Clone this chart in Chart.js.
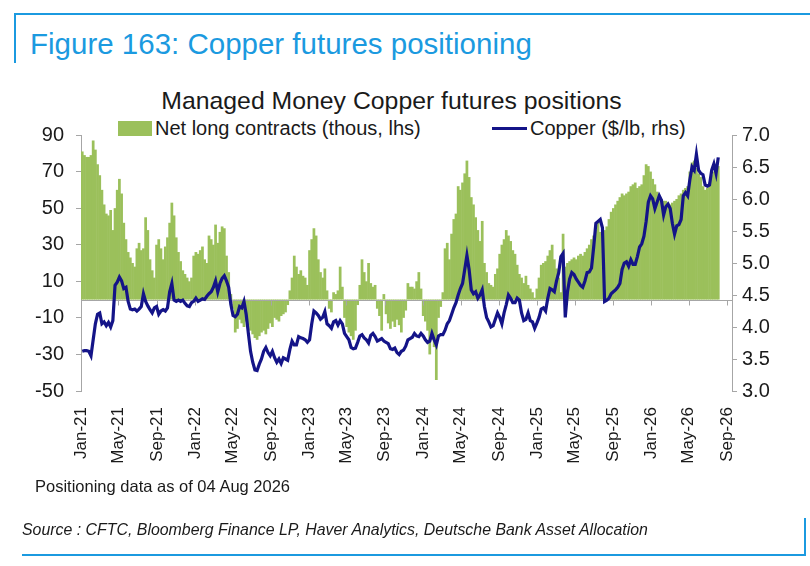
<!DOCTYPE html>
<html>
<head>
<meta charset="utf-8">
<script src="https://cdn.jsdelivr.net/npm/chart.js@4.4.1/dist/chart.umd.min.js"></script>
<style>
  html, body { margin: 0; padding: 0; background: #fff; }
  body { width: 810px; height: 566px; position: relative; overflow: hidden;
         font-family: "Liberation Sans", Arial, sans-serif; color: #1a1a1a; }
  #chart { position: absolute; left: 0; top: 0; }
  .frame { position: absolute; background: #1b9ae0; }
  #figTitle { position: absolute; left: 30px; top: 27px; font-size: 29.5px; color: #1b9ae0; white-space: nowrap; }
  #chartTitle { position: absolute; left: 0; width: 783px; top: 87px; text-align: center; font-size: 24.8px; white-space: nowrap; }
  .legText { position: absolute; top: 118px; font-size: 20px; line-height: 20px; white-space: nowrap; }
  #legBar { position: absolute; left: 118px; top: 121px; width: 34px; height: 15px; background: #9bc05b; }
  #legLine { position: absolute; left: 492px; top: 127px; width: 35px; height: 3px; background: #141488; }
  #note { position: absolute; left: 35px; top: 477px; font-size: 16.5px; white-space: nowrap; }
  #source { position: absolute; left: 22px; top: 521px; font-size: 15.9px; font-style: italic; white-space: nowrap; }
</style>
</head>
<body>
<div class="frame" style="left:14px; top:13px; width:796px; height:2px;"></div>
<div class="frame" style="left:14px; top:13px; width:2px; height:50px;"></div>
<div class="frame" style="left:22px; top:554px; width:784px; height:2px;"></div>
<div class="frame" style="left:804px; top:518px; width:2px; height:38px;"></div>
<div id="figTitle">Figure 163: Copper futures positioning</div>
<div id="chartTitle">Managed Money Copper futures positions</div>
<div id="legBar"></div>
<div class="legText" style="left:155px;">Net long contracts (thous, lhs)</div>
<div id="legLine"></div>
<div class="legText" style="left:530px;">Copper ($/lb, rhs)</div>
<canvas id="chart" width="810" height="566"></canvas>
<div id="note">Positioning data as of 04 Aug 2026</div>
<div id="source">Source : CFTC, Bloomberg Finance LP, Haver Analytics, Deutsche Bank Asset Allocation</div>

<script>
// weekly CFTC report dates, first one 05 Jan 2021, last one 04 Aug 2026
const firstReport = [2021, 0, 5];

const tickLabels = ['Jan-21', 'May-21', 'Sep-21', 'Jan-22', 'May-22', 'Sep-22', 'Jan-23', 'May-23', 'Sep-23',
                    'Jan-24', 'May-24', 'Sep-24', 'Jan-25', 'May-25', 'Sep-25', 'Jan-26', 'May-26', 'Sep-26'];

// managed money net long, thousand contracts (lhs)
const netLong = [
  81, 79, 78, 78, 79, 87, 82, 74, 68, 60,
  52, 47, 46, 49, 38, 50, 60, 66, 58, 42,
  33, 26, 23, 20, 18, 28, 31, 27, 28, 45,
  38, 22, 16, 12, 30, 33, 28, 22, 29, 34,
  42, 53, 46, 34, 26, 21, 16, 14, 12, 10,
  12, 24, 26, 25, 27, 29, 22, 20, 35, 33,
  30, 41, 31, 37, 40, 39, 24, 15, 3, -5,
  -18, -16, -11, -13, -15, -12, -14, -17, -19, -21,
  -22, -20, -18, -17, -19, -16, -13, -15, -10, -11,
  -12, -9, -8, -7, -3, 5, 12, 24, 18, 14,
  16, 13, 12, 8, 27, 33, 39, 35, 22, 15,
  12, 17, 5, -5, -7, 4, 3, 5, 18, 7,
  -10, -15, -18, -20, -22, -17, -3, 8, 22, 15,
  10, 20, 9, 7, 8, -5, -9, -17, 3, -8,
  -13, -16, -12, -15, -11, -14, -18, -10, -6, 9,
  7, 7, 6, 10, 15, 6, -9, -12, -17, -30,
  -22, -26, -44, -10, -4, 4, 28, 31, 22, 36,
  44, 47, 62, 60, 64, 69, 76, 67, 56, 52,
  45, 38, 32, 43, 20, 15, 9, 8, 7, 14,
  17, 25, 30, 33, 38, 35, 32, 27, 25, 19,
  14, 12, 9, 13, 8, 6, 4, 1, 6, 12,
  19, 20, 21, 24, 27, 30, 22, 17, 12, 4,
  36, 18, 20, 21, 22, 23, 22, 24, 25, 24,
  26, 28, 30, 33, 35, 38, 43, 37, 36, 38,
  40, 44, 48, 50, 52, 54, 56, 58, 57, 58,
  59, 62, 63, 64, 61, 62, 63, 68, 74, 73,
  70, 66, 63, 59, 56, 55, 54, 54, 53, 52,
  53, 54, 55, 57, 58, 60, 61, 62, 70, 75,
  76, 72, 69, 67, 62, 60, 61, 64, 68, 70,
  72, 73
];

// copper price, $/lb (rhs)
const copper = [
  3.62, 3.63, 3.63, 3.62, 3.55, 3.80, 4.05, 4.20, 4.22, 4.05,
  4.08, 4.02, 4.07, 4.00, 4.10, 4.65, 4.70, 4.78, 4.72, 4.60,
  4.62, 4.40, 4.28, 4.27, 4.28, 4.25, 4.28, 4.32, 4.52, 4.40,
  4.33, 4.27, 4.22, 4.30, 4.32, 4.20, 4.25, 4.27, 4.25, 4.30,
  4.55, 4.68, 4.42, 4.40, 4.42, 4.40, 4.42, 4.37, 4.33, 4.32,
  4.38, 4.40, 4.45, 4.40, 4.42, 4.44, 4.43, 4.48, 4.52, 4.55,
  4.62, 4.72, 4.55, 4.68, 4.76, 4.80, 4.72, 4.62, 4.35, 4.18,
  4.16, 4.20, 4.32, 4.30, 4.40, 4.20, 3.90, 3.62, 3.45, 3.33,
  3.32, 3.42, 3.50, 3.62, 3.68, 3.60, 3.55, 3.62, 3.52, 3.45,
  3.50, 3.43, 3.52, 3.50, 3.48, 3.65, 3.78, 3.72, 3.72, 3.85,
  3.83, 3.82, 3.80, 3.76, 3.80, 4.05, 4.25, 4.22, 4.18, 4.12,
  4.15, 4.24, 4.05, 4.02, 3.98, 4.08, 4.10, 4.03, 4.10, 4.05,
  3.90, 3.85, 3.80, 3.68, 3.66, 3.67, 3.76, 3.86, 3.88, 3.83,
  3.80, 3.75, 3.87, 3.90, 3.85, 3.78, 3.80, 3.82, 3.78, 3.76,
  3.74, 3.66, 3.65, 3.67, 3.60, 3.57, 3.62, 3.64, 3.70, 3.80,
  3.82, 3.84, 3.90, 3.86, 3.85, 3.90, 3.86, 3.80, 3.76, 3.78,
  3.90, 3.80, 3.72, 3.86, 3.88, 3.88, 3.95, 4.05, 4.10, 4.20,
  4.30, 4.38, 4.50, 4.60, 4.68, 4.90, 5.12, 4.90, 4.58, 4.52,
  4.55, 4.45, 4.50, 4.58, 4.32, 4.15, 4.08, 4.00, 4.02, 4.12,
  4.22, 4.15, 4.05, 4.22, 4.35, 4.50, 4.45, 4.38, 4.38, 4.45,
  4.42, 4.22, 4.10, 4.12, 4.22, 4.10, 4.08, 3.98, 4.06, 4.15,
  4.28, 4.30, 4.25, 4.45, 4.60, 4.58, 4.55, 4.72, 4.85, 5.10,
  5.15, 4.15, 4.55, 4.75, 4.85, 4.82, 4.75, 4.70, 4.65, 4.62,
  4.72, 4.85, 4.86, 4.92, 5.25, 5.62, 5.65, 5.68, 5.55, 4.40,
  4.42, 4.45, 4.52, 4.55, 4.58, 4.62, 4.68, 4.90, 5.00, 5.02,
  4.95, 5.05, 4.98, 4.98, 5.10, 5.25, 5.30, 5.42, 5.65, 5.95,
  6.05, 6.00, 5.85, 5.95, 6.05, 5.98, 5.75, 5.88, 5.92, 5.85,
  5.62, 5.45, 5.58, 5.60, 5.68, 6.05, 6.10, 6.05, 6.30, 6.50,
  6.45, 6.70, 6.45, 6.40, 6.38, 6.22, 6.20, 6.22, 6.45, 6.55,
  6.40, 6.65
];

const DAY = 86400000;
const origin = Date.UTC(2021, 0, 1);
const months = {Jan: 0, Feb: 1, Mar: 2, Apr: 3, May: 4, Jun: 5, Jul: 6, Aug: 7, Sep: 8, Oct: 9, Nov: 10, Dec: 11};

// x axis is days since 1 Jan 2021
const dayOf = (y, m, d) => (Date.UTC(y, m, d) - origin) / DAY;
const startDay = dayOf(...firstReport);
const tickDays = tickLabels.map(l => dayOf(2000 + +l.slice(4), months[l.slice(0, 3)], 1));

const barPts = netLong.map((v, i) => ({x: startDay + 7 * i, y: v}));
const linePts = copper.map((v, i) => ({x: startDay + 7 * i, y: v}));

const axisGrey = '#a6a6a6';

// zero line with small month ticks, drawn over the bars but under the copper line
const zeroLine = {
  id: 'zeroLine',
  afterDatasetDraw(chart, args) {
    if (args.index !== 0) return;
    const {ctx, chartArea, scales} = chart;
    const y0 = Math.round(scales.y.getPixelForValue(0)) + 0.5;
    ctx.save();
    ctx.strokeStyle = axisGrey;
    ctx.lineWidth = 1;
    ctx.beginPath();
    ctx.moveTo(chartArea.left, y0);
    ctx.lineTo(chartArea.right, y0);
    tickDays.forEach(d => {
      const x = Math.round(scales.x.getPixelForValue(d)) + 0.5;
      ctx.moveTo(x, y0);
      ctx.lineTo(x, y0 + 5);
    });
    ctx.stroke();
    ctx.restore();
  }
};

Chart.defaults.font.family = '"Liberation Sans", Arial, sans-serif';
Chart.defaults.color = '#1a1a1a';

new Chart(document.getElementById('chart'), {
  type: 'bar',
  data: {
    datasets: [
      {
        label: 'Net long contracts (thous, lhs)',
        data: barPts,
        yAxisID: 'y',
        backgroundColor: '#9bc05b',
        barPercentage: 1.25,   // overlap slightly so the weekly bars read as one block
        categoryPercentage: 1,
        order: 2
      },
      {
        type: 'line',
        label: 'Copper ($/lb, rhs)',
        data: linePts,
        yAxisID: 'y1',
        borderColor: '#141488',
        borderWidth: 3.2,
        pointRadius: 0,
        tension: 0,
        order: 1
      }
    ]
  },
  options: {
    responsive: false,
    animation: false,
    layout: {padding: {top: 135, left: 0, right: 0, bottom: 0}},
    plugins: {
      legend: {display: false},
      title: {display: false},
      tooltip: {enabled: false}
    },
    scales: {
      x: {
        type: 'linear',
        min: 0,
        max: 2085,
        offset: false,
        grid: {display: false},
        border: {display: false},
        afterBuildTicks: scale => { scale.ticks = tickDays.map(v => ({value: v})); },
        afterFit: scale => { scale.height = 175; },
        ticks: {
          autoSkip: false,
          minRotation: 90,
          maxRotation: 90,
          padding: 8,
          font: {size: 17},
          callback: (value, index) => tickLabels[index]
        }
      },
      y: {
        position: 'left',
        min: -50,
        max: 90,
        afterFit: scale => { scale.width = 81; },
        border: {display: true, color: axisGrey},
        grid: {drawOnChartArea: false, drawTicks: true, tickLength: 5, tickColor: axisGrey},
        ticks: {stepSize: 20, padding: 12, font: {size: 20}}
      },
      y1: {
        position: 'right',
        min: 3,
        max: 7,
        afterFit: scale => { scale.width = 78; },
        border: {display: true, color: axisGrey},
        grid: {drawOnChartArea: false, drawTicks: true, tickLength: 5, tickColor: axisGrey},
        ticks: {stepSize: 0.5, padding: 5, font: {size: 20}, callback: v => v.toFixed(1)}
      }
    }
  },
  plugins: [zeroLine]
});
</script>
</body>
</html>
